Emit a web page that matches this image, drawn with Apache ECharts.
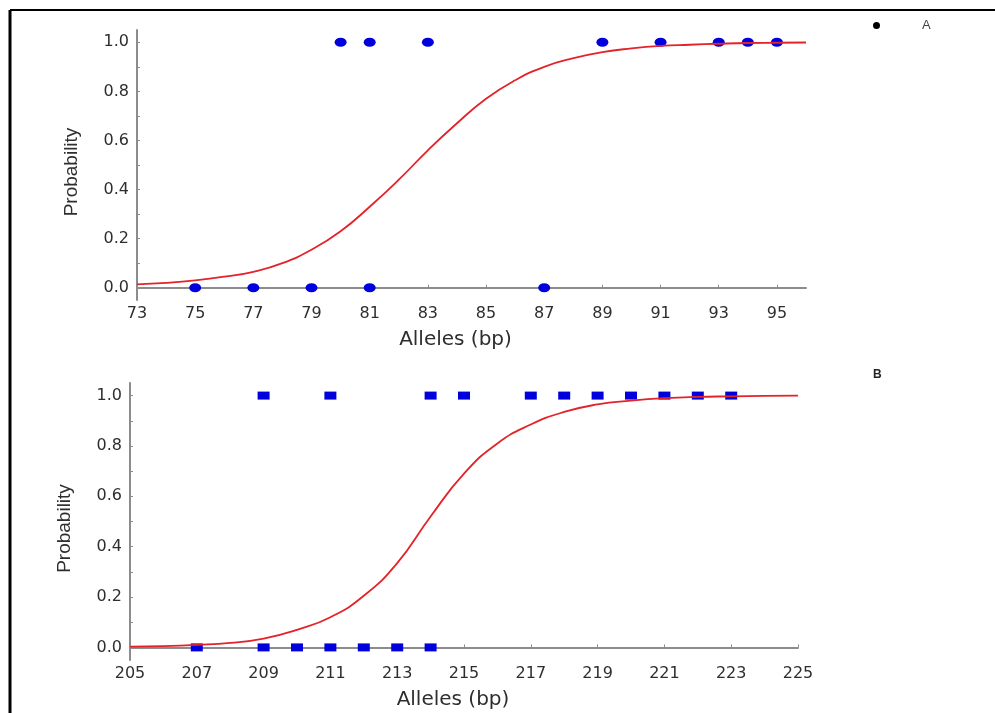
<!DOCTYPE html>
<html>
<head>
    <meta charset="utf-8">
    <title>Probability vs alleles</title>
    <style>
        html, body { margin: 0; padding: 0; background-color: #fff; }
        #charts { width: 995px; height: 713px; }
    </style>
</head>
<body>
    <div id="charts"></div>
<script type="text/javascript" src="https://cdn.jsdelivr.net/npm/echarts@6/dist/echarts.min.js"></script>
<script type="text/javascript">

// panel A: observed points (allele size, present 0/1)
var allelesA = [75, 77, 79, 80, 81, 81, 83, 87, 89, 91, 93, 94, 95];
var presentA = [0, 0, 0, 1, 0, 1, 1, 0, 1, 1, 1, 1, 1];
// panel A: fitted curve
var curveAX = [73, 74, 75, 76, 77, 78, 79, 80, 81, 82, 83, 84, 85, 86, 87, 88, 89, 90, 91, 92, 93, 94, 95, 96];
var curveAY = [0.014, 0.02, 0.03, 0.045, 0.065, 0.10, 0.155, 0.23, 0.33, 0.44, 0.56, 0.67, 0.77, 0.845, 0.90, 0.935, 0.96, 0.975, 0.985, 0.99, 0.994, 0.997, 0.998, 0.999];

// panel B
var allelesB = [207, 209, 209, 210, 211, 211, 212, 213, 214, 214, 215, 217, 218, 219, 220, 221, 222, 223];
var presentB = [0, 0, 1, 0, 0, 1, 0, 0, 0, 1, 1, 1, 1, 1, 1, 1, 1, 1];
var curveBX = [205, 206, 207, 208, 209, 210, 211, 212, 213, 214, 215, 216, 217, 218, 219, 220, 221, 222, 223, 224, 225];
var curveBY = [0.003, 0.005, 0.01, 0.018, 0.035, 0.07, 0.12, 0.205, 0.335, 0.52, 0.69, 0.81, 0.885, 0.935, 0.965, 0.98, 0.99, 0.995, 0.997, 0.999, 1.0];

// tick labels
var xTicksA = [73, 75, 77, 79, 81, 83, 85, 87, 89, 91, 93, 95];
var xTicksB = [205, 207, 209, 211, 213, 215, 217, 219, 221, 223, 225];
var yLabels = [0, 0.2, 0.4, 0.6, 0.8, 1.0];
var yTicks = [0, 0.1, 0.2, 0.3, 0.4, 0.5, 0.6, 0.7, 0.8, 0.9, 1.0];

function pairs(xs, ys) {
    var out = [];
    for (var i = 0; i < xs.length; i++) {
        out.push([xs[i], ys[i]]);
    }
    return out;
}

var labelStyle = { color: '#2e2e2e', fontFamily: 'DejaVu Sans', fontSize: 16 };
var axisLineStyle = { show: true, lineStyle: { color: '#8c8c8c', width: 2 } };

function xAxisFor(idx, min, max, ticks, pad) {
    return {
        gridIndex: idx,
        type: 'value',
        min: min,
        max: max,
        name: 'Alleles (bp)',
        nameLocation: 'middle',
        nameGap: 30,
        nameTextStyle: { color: '#2e2e2e', fontFamily: 'DejaVu Sans', fontSize: 20, padding: pad },
        axisLine: axisLineStyle,
        axisTick: { show: true, inside: true, length: 3, customValues: ticks, lineStyle: { color: '#8c8c8c' } },
        axisLabel: Object.assign({ margin: 6, customValues: ticks }, labelStyle),
        splitLine: { show: false }
    };
}

function yAxisFor(idx, pad) {
    return {
        gridIndex: idx,
        type: 'value',
        min: -0.05,
        max: 1.05,
        name: 'Probability',
        nameLocation: 'middle',
        nameGap: 56,
        nameTextStyle: { color: '#2e2e2e', fontFamily: 'Liberation Sans', fontSize: 19, padding: pad },
        axisLine: axisLineStyle,
        axisTick: { show: true, inside: true, length: 3, customValues: yTicks, lineStyle: { color: '#8c8c8c' } },
        axisLabel: Object.assign({
            margin: 8,
            customValues: yLabels,
            formatter: function (v) { return v.toFixed(1); }
        }, labelStyle),
        splitLine: { show: false }
    };
}

var myChart = echarts.init(document.getElementById('charts'));

var option = {
    backgroundColor: '#fff',
    animation: false,
    title: {
        text: 'B',
        left: 868,
        top: 364,
        textStyle: { fontSize: 12, fontWeight: 'bold', color: '#222', fontFamily: 'Liberation Sans' }
    },
    legend: {
        left: 868,
        top: 14,
        icon: 'circle',
        itemWidth: 7,
        itemHeight: 7,
        data: [{ name: 'A', itemStyle: { color: '#000' } }],
        textStyle: { fontSize: 13, color: '#444', fontFamily: 'Liberation Sans', padding: [0, 0, 0, 37] }
    },
    grid: [
        { left: 137, top: 30, width: 669, height: 270 },
        { left: 130, top: 383, width: 668, height: 277 }
    ],
    xAxis: [
        xAxisFor(0, 73, 96, xTicksA, [0, 32, 0, 0]),
        xAxisFor(1, 205, 225, xTicksB, [0, 22, 0, 0])
    ],
    yAxis: [
        yAxisFor(0, [0, 14, 0, 0]),
        yAxisFor(1, [0, 14, 0, 0])
    ],
    series: [
        {
            name: 'A',
            type: 'scatter',
            xAxisIndex: 0,
            yAxisIndex: 0,
            symbol: 'circle',
            symbolSize: [12, 9],
            itemStyle: { color: '#0000dc', opacity: 1 },
            data: pairs(allelesA, presentA),
            z: 2
        },
        {
            name: 'fit A',
            type: 'line',
            xAxisIndex: 0,
            yAxisIndex: 0,
            smooth: true,
            symbol: 'none',
            lineStyle: { color: '#e3232a', width: 1.8 },
            data: pairs(curveAX, curveAY),
            z: 3
        },
        {
            name: 'B',
            type: 'scatter',
            xAxisIndex: 1,
            yAxisIndex: 1,
            symbol: 'rect',
            symbolSize: [12, 8],
            itemStyle: { color: '#0000dc', opacity: 1 },
            data: pairs(allelesB, presentB),
            z: 2
        },
        {
            name: 'fit B',
            type: 'line',
            xAxisIndex: 1,
            yAxisIndex: 1,
            smooth: true,
            symbol: 'none',
            lineStyle: { color: '#e3232a', width: 1.8 },
            data: pairs(curveBX, curveBY),
            z: 3
        }
    ],
    graphic: [
        { type: 'line', shape: { x1: 10, y1: 10, x2: 995, y2: 10 }, style: { stroke: '#000', lineWidth: 2 } },
        { type: 'line', shape: { x1: 10, y1: 10, x2: 10, y2: 713 }, style: { stroke: '#000', lineWidth: 3 } }
    ]
};

myChart.setOption(option);
</script>
</body>
</html>
